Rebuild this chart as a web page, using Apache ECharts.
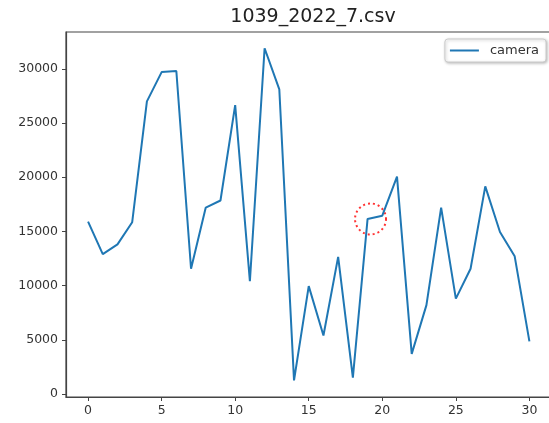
<!DOCTYPE html>
<html>
<head>
<meta charset="utf-8">
<script src="https://cdn.jsdelivr.net/npm/echarts@6/dist/echarts.min.js"></script>
<style>
html,body{margin:0;padding:0;background:#fff;}
#c{width:549px;height:423px;}
</style>
</head>
<body>
<div id="c"></div>
<script>
const titleText = "1039_2022_7.csv";
const seriesName = "camera";
const xValues = [0,1,2,3,4,5,6,7,8,9,10,11,12,13,14,15,16,17,18,19,20,21,22,23,24,25,26,27,28,29,30];
const cameraValues = [15900,12900,13800,15850,27000,29700,29800,11550,17200,17850,26650,10400,31900,28100,1250,9950,5400,12650,1500,16150,16450,20050,3700,8200,17200,8800,11550,19150,14950,12700,4850];
const xTicks = [0,5,10,15,20,25,30];
const yTicks = [0,5000,10000,15000,20000,25000,30000];
const highlight = [[19.2, 16150]];

const chart = echarts.init(document.getElementById('c'), null, {renderer:'canvas'});
const axisColor = '#444';
const labelColor = '#333';
chart.setOption({
  animation: false,
  backgroundColor: '#fff',
  title: {
    text: titleText,
    left: 308, top: 3,
    textAlign: 'center',
    textStyle: {fontFamily: 'DejaVu Sans', fontSize: 19, fontWeight: 'normal', color: '#222'}
  },
  legend: {
    data: [seriesName],
    right: 3, top: 39,
    orient: 'vertical',
    backgroundColor: '#fff',
    borderColor: '#ccc',
    borderWidth: 1,
    borderRadius: 3,
    shadowColor: 'rgba(0,0,0,0.25)',
    shadowBlur: 3,
    shadowOffsetX: 1,
    shadowOffsetY: 1,
    padding: [5, 7, 5, 5],
    itemWidth: 29,
    itemHeight: 2,
    itemGap: 5,
    icon: 'rect',
    textStyle: {fontFamily: 'DejaVu Sans', fontSize: 13, color: labelColor, padding: [0, 0, 0, 6]}
  },
  grid: {
    left: 66, top: 32, width: 484, height: 365,
    outerBoundsMode: 'none',
    containLabel: false,
    show: true, borderColor: axisColor, borderWidth: 1.2, backgroundColor: '#fff'
  },
  xAxis: {
    type: 'value', min: -1.5, max: 31.4,
    splitLine: {show: false},
    axisLine: {show: true, onZero: false, lineStyle: {color: axisColor, width: 1.2}},
    axisTick: {show: true, customValues: xTicks, length: 4, lineStyle: {color: axisColor}},
    axisLabel: {customValues: xTicks, fontFamily: 'DejaVu Sans', fontSize: 12.5, color: labelColor, margin: 7,
      formatter: v => String(v)}
  },
  yAxis: {
    type: 'value', min: -280, max: 33400,
    splitLine: {show: false},
    axisLine: {show: true, onZero: false, lineStyle: {color: axisColor, width: 1.2}},
    axisTick: {show: true, customValues: yTicks, length: 4, lineStyle: {color: axisColor}},
    axisLabel: {customValues: yTicks, fontFamily: 'DejaVu Sans', fontSize: 12.5, color: labelColor, margin: 8,
      formatter: v => String(v)}
  },
  series: [
    {
      name: seriesName,
      type: 'line',
      data: xValues.map((x, i) => [x, cameraValues[i]]),
      showSymbol: false,
      symbol: 'none',
      lineStyle: {color: '#1f77b4', width: 2},
      itemStyle: {color: '#1f77b4'}
    },
    {
      name: 'highlight',
      type: 'scatter',
      data: highlight,
      symbol: 'circle',
      symbolSize: 31,
      silent: true,
      itemStyle: {color: 'rgba(0,0,0,0)', borderColor: '#ff0000', borderWidth: 2, borderType: [2, 3]}
    }
  ]
});
</script>
</body>
</html>
